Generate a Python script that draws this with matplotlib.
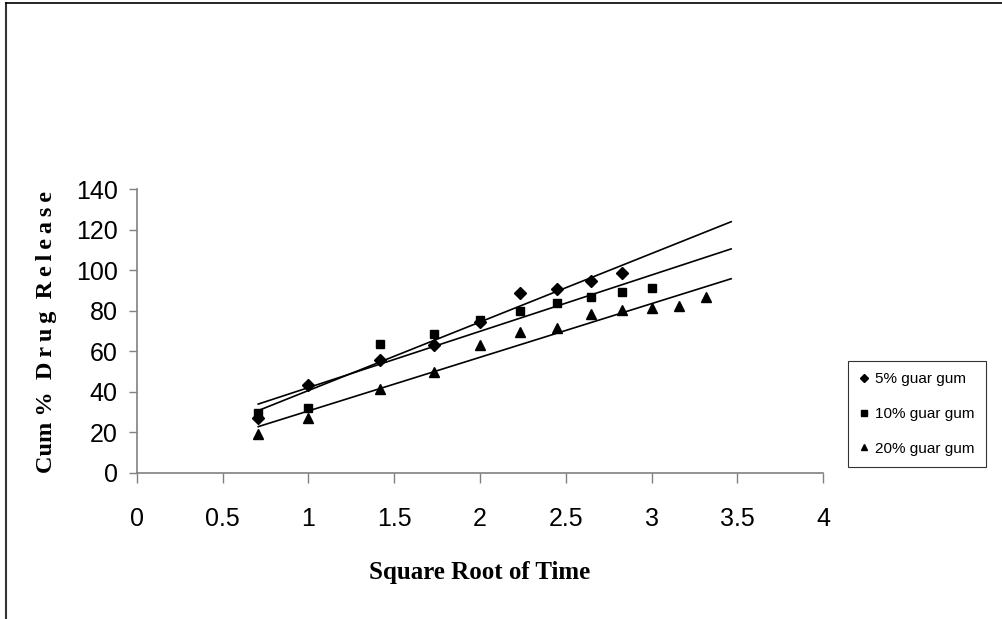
import numpy as np
import matplotlib.pyplot as plt
from matplotlib.lines import Line2D

# square root of time (h)
x = np.sqrt(np.array([0.5, 1, 2, 3, 4, 5, 6, 7, 8, 9, 10, 11]))

# cumulative % drug release
gum5 = np.array([26.9, 43.3, 55.7, 63.1, 74.6, 88.9, 90.9, 94.7, 98.5])
gum10 = np.array([29.3, 31.8, 63.4, 68.4, 75.4, 79.9, 83.7, 86.6, 89.3, 91.1])
gum20 = np.array([19.1, 26.9, 41.2, 49.6, 63.1, 69.7, 71.6, 78.3, 80.2, 81.2, 82.4, 87.0])

series = [
    ("5% guar gum", gum5, "D", 6),
    ("10% guar gum", gum10, "s", 6),
    ("20% guar gum", gum20, "^", 7),
]

x_fit = np.linspace(x.min(), np.sqrt(12), 100)

fig = plt.figure(figsize=(10.02, 6.19), dpi=100)
ax = fig.add_axes([0.1367, 0.2363, 0.6847, 0.4579])

for label, y, m, ms in series:
    xs = x[:len(y)]
    ax.plot(xs, y, linestyle="none", marker=m, markersize=ms, color="black", label=label)
    coeffs = np.polyfit(xs, y, 1)
    ax.plot(x_fit, np.polyval(coeffs, x_fit), color="black", linewidth=1.2)

ax.set_xlim(0, 4)
ax.set_ylim(0, 140)
ax.set_xticks(np.arange(0, 4.01, 0.5))
ax.set_xticklabels(["0", "0.5", "1", "1.5", "2", "2.5", "3", "3.5", "4"])
ax.set_yticks(np.arange(0, 141, 20))

for s in ["top", "right"]:
    ax.spines[s].set_visible(False)
for s in ["left", "bottom"]:
    ax.spines[s].set_color("#808080")
    ax.spines[s].set_linewidth(1.2)

ax.tick_params(axis="both", direction="out", colors="#808080", labelcolor="black",
               width=1, labelsize=18)
ax.tick_params(axis="x", length=7, pad=18)
ax.tick_params(axis="y", length=6, pad=8)
for t in ax.get_xticklabels() + ax.get_yticklabels():
    t.set_fontfamily("Liberation Sans")

fig.text(0.479, 1 - 573 / 619, "Square Root of Time", ha="center", va="center",
         fontsize=18, fontweight="bold", family="Liberation Serif")
fig.text(47 / 1002, 1 - 332 / 619, "Cum %  D\u2009r\u2009u\u2009g  R\u2009e\u2009l\u2009e\u2009a\u2009s\u2009e",
         ha="center", va="center", rotation=90, fontsize=17.5, fontweight="bold",
         family=["Liberation Serif", "DejaVu Serif"])

handles = [Line2D([], [], linestyle="none", marker=m, markersize=ms * 0.7, color="black")
           for _, _, m, ms in series]
leg = ax.legend(handles, [s[0] for s in series], loc="upper left",
                bbox_to_anchor=(848 / 1002, 1 - 361 / 619), bbox_transform=fig.transFigure,
                prop={"family": "Liberation Sans", "size": 11}, frameon=True, fancybox=False,
                edgecolor="black", handlelength=0.6, handletextpad=0.4, labelspacing=1.35,
                borderpad=0.75, borderaxespad=0)
leg.get_frame().set_linewidth(0.8)

# outer frame (left and top edges visible)
fig.add_artist(Line2D([6 / 1002, 6 / 1002], [0, 1 - 3 / 619], transform=fig.transFigure,
                      color="#333333", linewidth=1.5))
fig.add_artist(Line2D([6 / 1002, 1], [1 - 3 / 619, 1 - 3 / 619], transform=fig.transFigure,
                      color="black", linewidth=1.2))

fig.savefig("out.png", dpi=100)
